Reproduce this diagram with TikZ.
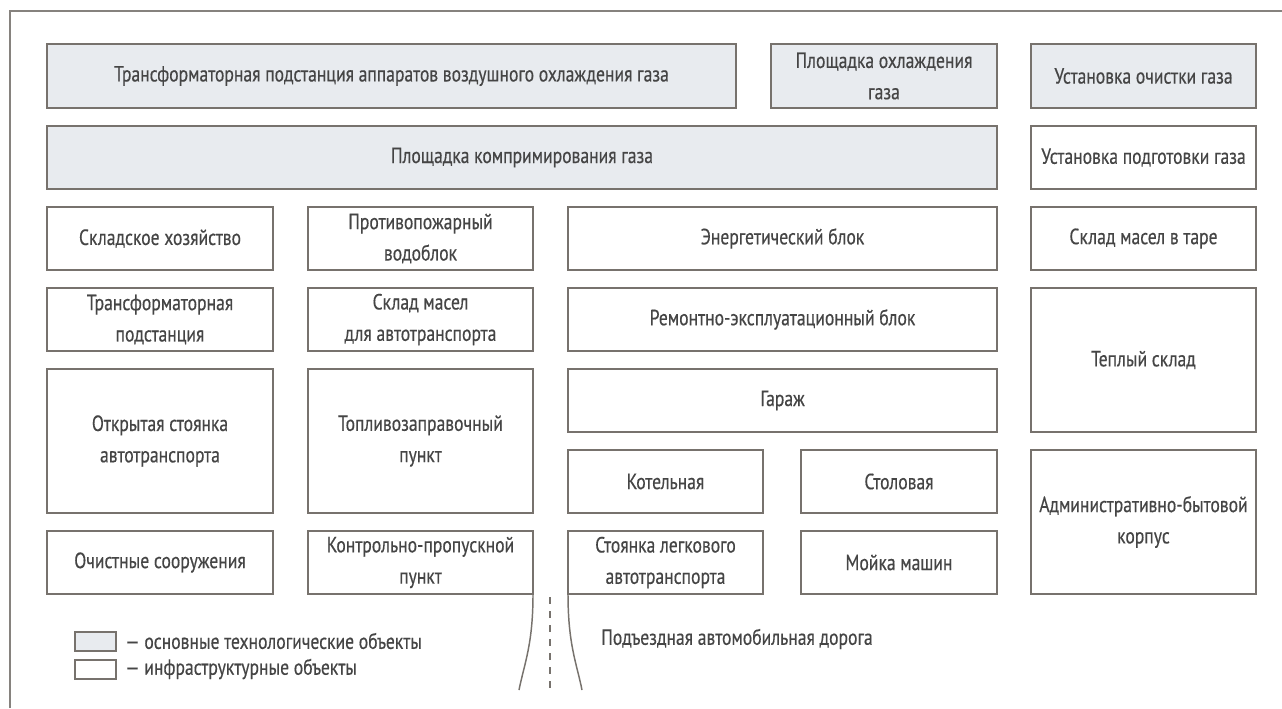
\documentclass[tikz,border=0pt]{standalone}
\usepackage{fontspec}
\newfontfamily\lblfont{PT Sans}[FakeStretch=0.80, FakeBold=0.4]
\definecolor{bordc}{HTML}{77726D}
\definecolor{txtc}{HTML}{454545}
\definecolor{mainc}{HTML}{E8EBEF}
\definecolor{framec}{HTML}{86827E}
\tikzset{
  infra/.style={draw=bordc, line width=1.1pt, fill=white, text=txtc, align=center,
    inner sep=0pt, outer sep=0pt, font=\lblfont\fontsize{16.5}{23.5}\selectfont},
  mainobj/.style={infra, fill=mainc},
  lbl/.style={text=txtc, inner sep=0pt, anchor=west, font=\lblfont\fontsize{16.5}{23.5}\selectfont},
  road/.style={draw=bordc, line width=1.1pt},
}
\newcommand\bx[7]{\node[#6, minimum width={(#4-#2)*0.75pt}, minimum height={(#5-#3)*0.75pt}] (#1) at ({(#2+#4)/2},{(#3+#5)/2}) {#7};}
\begin{document}
\begin{tikzpicture}[x=0.75pt, y=-0.75pt]
\useasboundingbox (0,0) rectangle (1282,708);
\fill[white] (0,0) rectangle (1282,708);
\draw[framec, line width=1.1pt] (10,708) -- (10,11) -- (1282,11);
% row 1
\bx{tpavo}{47}{44}{736}{108}{mainobj}{Трансформаторная подстанция аппаратов воздушного охлаждения газа}
\bx{pog}{771}{44}{997}{108}{mainobj}{Площадка охлаждения\\газа}
\bx{uog}{1031}{44}{1256}{108}{mainobj}{Установка очистки газа}
% row 2
\bx{pkg}{47}{126}{997}{189}{mainobj}{Площадка компримирования газа}
\bx{upg}{1031}{126}{1256}{189}{infra}{Установка подготовки газа}
% row 3
\bx{skh}{47}{207}{273}{270}{infra}{Складское хозяйство}
\bx{pvb}{308}{207}{533}{270}{infra}{Противопожарный\\водоблок}
\bx{eb}{568}{207}{997}{270}{infra}{Энергетический блок}
\bx{smt}{1031}{207}{1256}{270}{infra}{Склад масел в таре}
% row 4
\bx{tp}{47}{288}{273}{351}{infra}{Трансформаторная\\подстанция}
\bx{sma}{308}{288}{533}{351}{infra}{Склад масел\\для автотранспорта}
\bx{reb}{568}{288}{997}{351}{infra}{Ремонтно-эксплуатационный блок}
\bx{ts}{1031}{288}{1256}{432}{infra}{Теплый склад}
% row 5
\bx{osa}{47}{369}{273}{513}{infra}{Открытая стоянка\\автотранспорта}
\bx{tzp}{308}{369}{533}{513}{infra}{Топливозаправочный\\пункт}
\bx{gar}{568}{369}{997}{432}{infra}{Гараж}
% row 6
\bx{kot}{568}{450}{763}{513}{infra}{Котельная}
\bx{stol}{801}{450}{997}{513}{infra}{Столовая}
\bx{abk}{1031}{450}{1256}{594}{infra}{Административно-бытовой\\корпус}
% row 7
\bx{ochs}{47}{531}{273}{594}{infra}{Очистные сооружения}
\bx{kpp}{308}{531}{533}{594}{infra}{Контрольно-пропускной\\пункт}
\bx{sla}{568}{531}{763}{594}{infra}{Стоянка легкового\\автотранспорта}
\bx{mm}{801}{531}{997}{594}{infra}{Мойка машин}
% road
\coordinate (roadL) at (519,690);
\coordinate (roadR) at (582,690);
\coordinate (midT) at (550,597);
\coordinate (midB) at (550,692);
\draw[road] (kpp.south east) .. controls ([yshift=-38pt]kpp.south east) and ([xshift=4pt,yshift=20pt]roadL) .. (roadL);
\draw[road] (sla.south west) .. controls ([yshift=-38pt]sla.south west) and ([xshift=-4pt,yshift=20pt]roadR) .. (roadR);
\draw[road, dash pattern=on 5.5pt off 5pt] (midT) -- (midB);
\node[lbl] (roadtxt) at (601,639) {Подъездная автомобильная дорога};
% legend
\bx{legm}{75}{632}{116}{651}{mainobj}{}
\bx{legi}{75}{660}{116}{679}{infra}{}
\node[lbl] (legmt) at (125,641) {— основные технологические объекты};
\node[lbl] (legit) at (125,669) {— инфраструктурные объекты};
\end{tikzpicture}
\end{document}
